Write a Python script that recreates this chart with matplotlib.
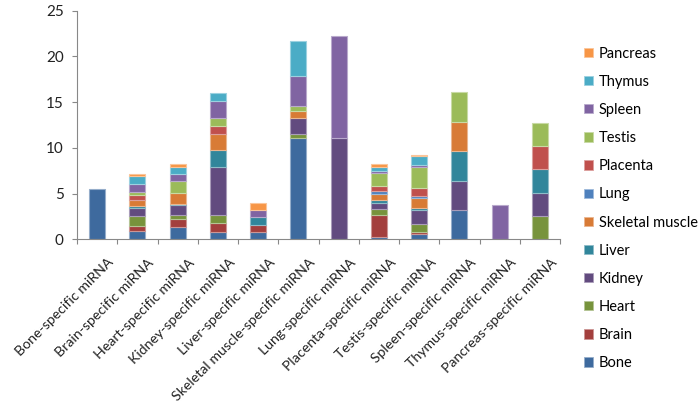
import numpy as np
import matplotlib
matplotlib.use("Agg")
from matplotlib import pyplot as plt
from matplotlib.patches import Patch
from matplotlib.colors import to_rgb
from matplotlib.transforms import ScaledTranslation

plt.rcParams['font.family'] = ['Lato', 'DejaVu Sans']

categories = ["Bone-specific miRNA", "Brain-specific miRNA", "Heart-specific miRNA",
              "Kidney-specific miRNA", "Liver-specific miRNA", "Skeletal muscle-specific miRNA",
              "Lung-specific miRNA", "Placenta-specific miRNA", "Testis-specific miRNA",
              "Spleen-specific miRNA", "Thymus-specific miRNA", "Pancreas-specific miRNA"]

series_names = ["Bone", "Brain", "Heart", "Kidney", "Liver", "Skeletal muscle",
                "Lung", "Placenta", "Testis", "Spleen", "Thymus", "Pancreas"]

bone = [5.5, 0.9, 1.3, 0.85, 0.8, 11.1, 0, 0.3, 0.55, 3.2, 0, 0]
brain = [0, 0.6, 0.9, 0.9, 0.75, 0, 0, 2.35, 0.3, 0, 0, 0]
heart = [0, 1.1, 0.45, 0.9, 0, 0.4, 0, 0.65, 0.85, 0, 0, 2.55]
kidney = [0, 0.85, 1.1, 5.3, 0, 1.75, 11.1, 0.7, 1.55, 3.2, 0, 2.55]
liver = [0, 0.15, 0.1, 1.8, 0.85, 0, 0, 0.3, 0.15, 3.2, 0, 2.55]
skeletal = [0, 0.65, 1.25, 1.8, 0, 0.8, 0, 0.65, 1.15, 3.25, 0, 0]
lung = [0, 0, 0, 0, 0, 0, 0, 0.3, 0.2, 0, 0, 0]
placenta = [0, 0.6, 0, 0.85, 0, 0, 0, 0.6, 0.9, 0, 0, 2.55]
testis = [0, 0.3, 1.3, 0.9, 0, 0.55, 0, 1.35, 2.2, 3.25, 0, 2.55]
spleen = [0, 0.9, 0.7, 1.8, 0.8, 3.25, 11.1, 0.3, 0.3, 0, 3.8, 0]
thymus = [0, 0.9, 0.75, 0.85, 0, 3.85, 0, 0.45, 0.95, 0, 0, 0]
pancreas = [0, 0.15, 0.4, 0, 0.8, 0, 0, 0.25, 0.15, 0, 0, 0]

series = [bone, brain, heart, kidney, liver, skeletal, lung, placenta, testis, spleen, thymus, pancreas]
colors = ["#3E6A9E", "#A33F3D", "#77933C", "#624B7F", "#31869B", "#D87B36",
          "#4F81BD", "#C0504D", "#9BBB59", "#8064A2", "#4BACC6", "#F79646"]


def lighten(c, f=0.45):
    r, g, b = to_rgb(c)
    return (r + (1 - r) * f, g + (1 - g) * f, b + (1 - b) * f)


fig = plt.figure(figsize=(7, 4.08), dpi=100)
ax = fig.add_axes([0.11, 0.4135, 0.69, 0.5605])

x = np.arange(len(categories))
bottom = np.zeros(len(categories))
for name, vals, col in zip(series_names, series, colors):
    vals = np.array(vals, dtype=float)
    lw = [0.8 if v > 0 else 0 for v in vals]
    ax.bar(x, vals, width=0.4, bottom=bottom, color=col,
           edgecolor=lighten(col), linewidth=lw, label=name)
    bottom += vals

ax.set_xlim(-0.5, len(categories) - 0.5)
ax.set_ylim(0, 25)
ax.set_yticks([0, 5, 10, 15, 20, 25])

# category boundaries get the tick marks, names go under the bar centres
ax.set_xticks(np.arange(-0.5, len(categories), 1.0))
ax.set_xticklabels([])
ax.tick_params(axis='x', which='major', length=3.6, color='#888888')
ax.tick_params(axis='y', length=3.6, color='#888888', labelsize=11,
               labelcolor='#222222', pad=6)

shift = ax.get_xaxis_transform() + ScaledTranslation(0.105, -0.17, fig.dpi_scale_trans)
for xi, lab in zip(x, categories):
    ax.text(xi, 0, lab, transform=shift, rotation=45, ha='right', va='top',
            rotation_mode='anchor', fontsize=10.2, color='#222222')

for s in ['top', 'right']:
    ax.spines[s].set_visible(False)
for s in ['left', 'bottom']:
    ax.spines[s].set_color('#888888')

handles = [Patch(facecolor=c, edgecolor=lighten(c), linewidth=0.6) for c in colors][::-1]
labels = series_names[::-1]
fig.legend(handles, labels, loc='upper left', bbox_to_anchor=(0.826, 0.9),
           frameon=False, fontsize=10.5, handlelength=0.6, handleheight=0.6,
           handletextpad=0.4, labelspacing=0.97, borderaxespad=0)

fig.savefig("out.png", dpi=100)
